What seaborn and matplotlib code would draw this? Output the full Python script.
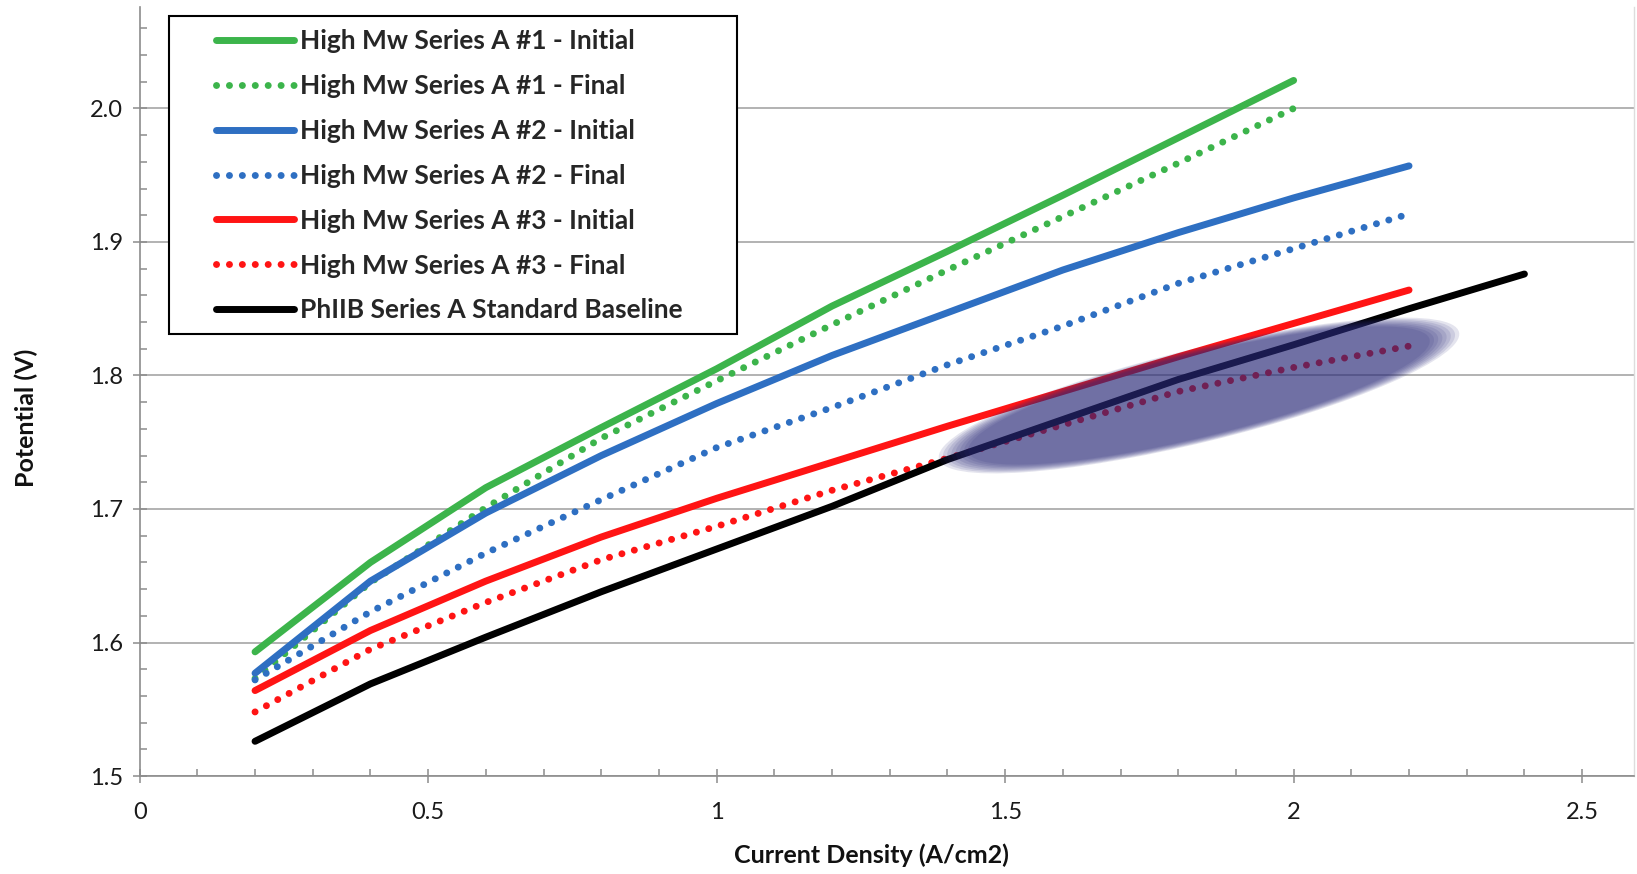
import numpy as np
import pandas as pd
import matplotlib
matplotlib.use("Agg")
import matplotlib.pyplot as plt
import seaborn as sns
from matplotlib.patches import Ellipse, Rectangle
from matplotlib.transforms import ScaledTranslation
from matplotlib.ticker import MultipleLocator, FuncFormatter

# data
cd = [0.2, 0.4, 0.6, 0.8, 1.0, 1.2, 1.4, 1.6, 1.8, 2.0, 2.2, 2.4]

a1_initial = [1.593, 1.660, 1.716, 1.761, 1.805, 1.852, 1.893, 1.935, 1.978, 2.021]
a1_final = [1.573, 1.645, 1.701, 1.753, 1.796, 1.838, 1.879, 1.919, 1.959, 2.000]
a2_initial = [1.577, 1.646, 1.697, 1.740, 1.779, 1.815, 1.847, 1.879, 1.907, 1.933, 1.957]
a2_final = [1.572, 1.623, 1.667, 1.707, 1.746, 1.776, 1.808, 1.837, 1.869, 1.895, 1.921]
a3_initial = [1.564, 1.609, 1.646, 1.679, 1.708, 1.735, 1.762, 1.788, 1.814, 1.839, 1.864]
a3_final = [1.548, 1.595, 1.630, 1.662, 1.687, 1.714, 1.738, 1.763, 1.788, 1.806, 1.822]
baseline = [1.526, 1.569, 1.604, 1.638, 1.670, 1.702, 1.737, 1.767, 1.797, 1.823, 1.850, 1.876]

labels = [
    "High Mw Series A #1 - Initial",
    "High Mw Series A #1 - Final",
    "High Mw Series A #2 - Initial",
    "High Mw Series A #2 - Final",
    "High Mw Series A #3 - Initial",
    "High Mw Series A #3 - Final",
    "PhIIB Series A Standard Baseline",
]
series = [a1_initial, a1_final, a2_initial, a2_final, a3_initial, a3_final, baseline]
colors = ["#3cb44b", "#3cb44b", "#2e6fc2", "#2e6fc2", "#ff1414", "#ff1414", "#000000"]
dotted = [False, True, False, True, False, True, False]

sns.set_theme(style="white")
plt.rcParams["font.family"] = ["Lato", "DejaVu Sans"]

fig = plt.figure(figsize=(16.37, 8.74), dpi=100)
ax = fig.add_axes([0.0853, 0.1121, 0.9129, 0.8799])

for lab, vals, col, dot in zip(labels, series, colors, dotted):
    df = pd.DataFrame({"x": cd[:len(vals)], "y": vals})
    ls = (0, (0.01, 1.85)) if dot else "-"
    sns.lineplot(data=df, x="x", y="y", ax=ax, color=col, lw=5, linestyle=ls,
                 dash_capstyle="round", solid_capstyle="round", label=lab,
                 legend=False, zorder=3)

# shaded highlight ellipse (soft edge built from stacked layers)
cx, cy = 1.836, 1.785
for k in np.linspace(1.06, 0.94, 8):
    e = Ellipse((0, 0), 5.05 * k, 0.88 * k, angle=13.7, facecolor="#2b2b7a",
                edgecolor="none", alpha=0.125,
                transform=fig.dpi_scale_trans + ScaledTranslation(cx, cy, ax.transData),
                zorder=4)
    ax.add_patch(e)

ax.set_xlim(0, 2.59)
ax.set_ylim(1.5, 2.076)
ax.xaxis.set_major_locator(MultipleLocator(0.5))
ax.xaxis.set_minor_locator(MultipleLocator(0.1))
ax.yaxis.set_major_locator(MultipleLocator(0.1))
ax.yaxis.set_minor_locator(MultipleLocator(0.02))
ax.xaxis.set_major_formatter(FuncFormatter(lambda v, p: f"{v:g}"))
ax.yaxis.set_major_formatter(FuncFormatter(lambda v, p: f"{v:.1f}"))

ax.grid(axis="y", which="major", color="#a6a6a6", lw=1.2)
ax.grid(axis="x", visible=False)
ax.set_axisbelow(True)

for s in ["left", "bottom"]:
    ax.spines[s].set_color("#8c8c8c")
    ax.spines[s].set_linewidth(1.2)
ax.spines["top"].set_visible(False)
ax.spines["right"].set_color("#dddddd")
ax.spines["right"].set_linewidth(1)

ax.tick_params(axis="both", which="major", direction="inout", length=10, width=1.1,
               color="#8c8c8c", labelsize=17, labelcolor="#1a1a1a")
ax.tick_params(axis="both", which="minor", direction="in", length=5, width=1.1,
               color="#8c8c8c")
ax.tick_params(axis="x", which="both", bottom=True, pad=14)
ax.tick_params(axis="y", which="both", left=True, pad=7)

ax.set_xlabel("Current Density (A/cm2)", fontsize=18, fontweight="bold", color="#111111")
ax.set_ylabel("Potential (V)", fontsize=18, fontweight="bold", color="#111111")
ax.xaxis.set_label_coords((871 - 139.6) / 1494.4, -(843 - 776) / 769)
ax.yaxis.set_label_coords(-(139.6 - 38) / 1494.4, (776 - 418) / 769)

# legend frame and entries
ax.add_patch(Rectangle((0.0196, 0.5748), 0.380, 0.4135, transform=ax.transAxes,
                       facecolor="white", edgecolor="black", lw=1.5, zorder=5))
leg = ax.legend(loc="upper left", bbox_to_anchor=(0.0514, 0.971), frameon=False,
                prop={"weight": "bold", "size": 19},
                handlelength=2.95, handletextpad=0.22, labelspacing=0.79,
                borderpad=0, borderaxespad=0)
leg.set_zorder(6)

fig.savefig("out.png", dpi=100)
